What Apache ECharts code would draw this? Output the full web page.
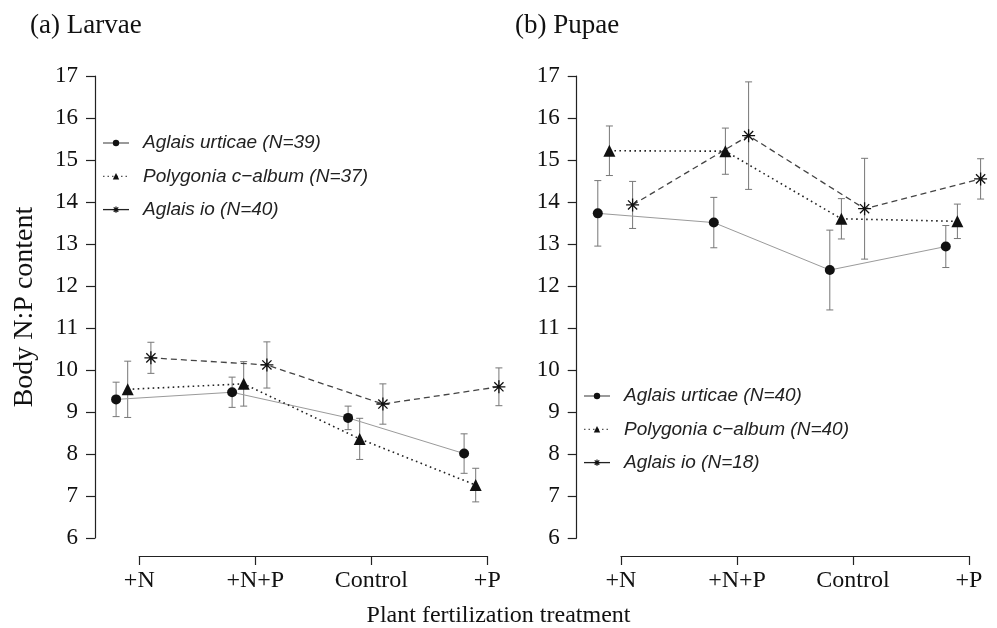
<!DOCTYPE html>
<html>
<head>
<meta charset="utf-8">
<script src="https://cdn.jsdelivr.net/npm/echarts@6/dist/echarts.min.js"></script>
<style>
  html, body { margin: 0; padding: 0; background: #fff; }
  #chart { width: 997px; height: 628px; }
</style>
</head>
<body>
<div id="chart"></div>
<script>
// categories on the x axis
const treatments = ['+N', '+N+P', 'Control', '+P'];
// horizontal dodge of each species inside a category
const speciesOffset = [-0.2, -0.1, 0.1];

// (a) larvae: means and standard errors
const larvaeNames = ['Aglais urticae (N=39)', 'Polygonia c\u2212album (N=37)', 'Aglais io (N=40)'];
const larvaeUrticae = [9.30, 9.47, 8.86, 8.01];
const larvaeUrticaeSE = [0.41, 0.36, 0.28, 0.47];
const larvaePolygonia = [9.54, 9.67, 8.36, 7.26];
const larvaePolygoniaSE = [0.67, 0.53, 0.49, 0.40];
const larvaeIo = [10.29, 10.12, 9.19, 9.60];
const larvaeIoSE = [0.37, 0.55, 0.48, 0.45];

// (b) pupae
const pupaeNames = ['Aglais urticae (N=40)', 'Polygonia c\u2212album (N=40)', 'Aglais io (N=18)'];
const pupaeUrticae = [13.73, 13.51, 12.38, 12.94];
const pupaeUrticaeSE = [0.78, 0.60, 0.95, 0.50];
const pupaePolygonia = [15.22, 15.21, 13.60, 13.54];
const pupaePolygoniaSE = [0.59, 0.55, 0.48, 0.41];
const pupaeIo = [13.93, 15.58, 13.84, 14.55];
const pupaeIoSE = [0.56, 1.28, 1.20, 0.48];

const serif = "'Liberation Serif', 'Times New Roman', serif";
const sans = "'Liberation Sans', Arial, sans-serif";
const axisColor = '#222';

// asterisk like R pch 8
const asterisk = 'path://M0,5L10,5M5,0L5,10M1.46,1.46L8.54,8.54M8.54,1.46L1.46,8.54';

const speciesStyle = [
  { symbol: 'circle', symbolSize: 10, lineStyle: { color: '#9a9a9a', width: 1, type: 'solid' },
    itemStyle: { color: '#111' } },
  { symbol: 'triangle', symbolSize: 12, lineStyle: { color: '#222', width: 1.6, type: [1.6, 3.4] },
    itemStyle: { color: '#111' } },
  { symbol: asterisk, symbolSize: 13, lineStyle: { color: '#444', width: 1.3, type: [6, 4] },
    itemStyle: { color: '#111', borderColor: '#111', borderWidth: 1.3 } }
];

// panel geometry (y axis position and first category tick)
const unit = 116;
const dataWidth = 415;
const panels = [
  { axisX: 95, firstTick: 139.3 },
  { axisX: 576.7, firstTick: 621 }
];

function renderErrorBar(params, api) {
  const x = api.value(0);
  const lo = api.coord([x, api.value(1)]);
  const hi = api.coord([x, api.value(2)]);
  const w = 3.5;
  const style = { stroke: '#777', lineWidth: 1 };
  return {
    type: 'group',
    children: [
      { type: 'line', shape: { x1: lo[0], y1: lo[1], x2: hi[0], y2: hi[1] }, style: style },
      { type: 'line', shape: { x1: lo[0] - w, y1: lo[1], x2: lo[0] + w, y2: lo[1] }, style: style },
      { type: 'line', shape: { x1: hi[0] - w, y1: hi[1], x2: hi[0] + w, y2: hi[1] }, style: style }
    ]
  };
}

let grid = [];
let xAxis = [];
let yAxis = [];
let series = [];

function addPanel(p, names, means, ses, showName) {
  const panel = panels[p];
  const xMin = 1 - (panel.firstTick - panel.axisX) / unit;
  // data grid
  grid.push({ left: panel.axisX, top: 76, width: dataWidth, height: 462 });
  // grid that only carries the category axis (spans first to last tick)
  grid.push({ left: panel.firstTick, top: 500, width: unit * 3, height: 56 });
  const g = p * 2;
  xAxis.push({ gridIndex: g, type: 'value', min: xMin, max: xMin + dataWidth / unit, show: false });
  xAxis.push({
    gridIndex: g + 1, type: 'value', min: 1, max: 4, interval: 1,
    axisLine: { show: true, lineStyle: { color: axisColor, width: 1.2 } },
    axisTick: { show: true, length: 9, lineStyle: { color: axisColor, width: 1.2 } },
    splitLine: { show: false },
    axisLabel: {
      margin: 13, color: '#111', fontFamily: serif, fontSize: 24,
      formatter: v => treatments[v - 1]
    }
  });
  yAxis.push({
    gridIndex: g, type: 'value', min: 6, max: 17, interval: 1,
    name: showName ? 'Body N:P content' : '', nameLocation: 'middle', nameGap: 56,
    nameTextStyle: { fontFamily: serif, fontSize: 28, color: '#111' },
    axisLine: { show: true, lineStyle: { color: axisColor, width: 1.2 } },
    axisTick: { show: true, length: 9, lineStyle: { color: axisColor, width: 1.2 } },
    splitLine: { show: false },
    axisLabel: { margin: 17, color: '#111', fontFamily: serif, fontSize: 23 }
  });
  yAxis.push({ gridIndex: g + 1, type: 'value', show: false });

  for (let s = 0; s < 3; s++) {
    const pts = means[s].map((m, i) => [i + 1 + speciesOffset[s], m]);
    const bars = means[s].map((m, i) => [i + 1 + speciesOffset[s], m - ses[s][i], m + ses[s][i]]);
    series.push({
      type: 'custom', xAxisIndex: g, yAxisIndex: g, z: 1,
      renderItem: renderErrorBar, data: bars, encode: { x: 0, y: [1, 2] }, silent: true
    });
    series.push(Object.assign({
      name: names[s], type: 'line', xAxisIndex: g, yAxisIndex: g, z: 3,
      data: pts, showSymbol: true, animation: false
    }, speciesStyle[s]));
  }
}

addPanel(0, larvaeNames, [larvaeUrticae, larvaePolygonia, larvaeIo], [larvaeUrticaeSE, larvaePolygoniaSE, larvaeIoSE], true);
addPanel(1, pupaeNames, [pupaeUrticae, pupaePolygonia, pupaeIo], [pupaeUrticaeSE, pupaePolygoniaSE, pupaeIoSE], false);

const legendText = { fontFamily: sans, fontStyle: 'italic', fontSize: 19, color: '#222', lineHeight: 20, padding: [0, 0, 0, 9] };

// legend entries: the io key is drawn as a solid line in the original
function legendData(names) {
  return [
    { name: names[0] },
    { name: names[1], lineStyle: { color: '#555', width: 1.3, type: [1.5, 3] } },
    { name: names[2], lineStyle: { color: '#222', width: 1.3, type: 'solid' },
      itemStyle: { color: '#111', borderColor: '#111', borderWidth: 1.2 } }
  ];
}

const option = {
  animation: false,
  backgroundColor: '#fff',
  title: [
    { text: '(a) Larvae', left: 30, top: 12, padding: 0,
      textStyle: { fontFamily: serif, fontSize: 27, fontWeight: 'normal', color: '#111' } },
    { text: '(b) Pupae', left: 515, top: 12, padding: 0,
      textStyle: { fontFamily: serif, fontSize: 27, fontWeight: 'normal', color: '#111' } },
    { text: 'Plant fertilization treatment', left: 'center', top: 604, padding: 0,
      textStyle: { fontFamily: serif, fontSize: 24, fontWeight: 'normal', color: '#111' } }
  ],
  legend: [
    { data: legendData(larvaeNames), orient: 'vertical', left: 102, top: 133, padding: 0,
      itemWidth: 26, itemHeight: 8, itemGap: 13.3, textStyle: legendText, selectedMode: false },
    { data: legendData(pupaeNames), orient: 'vertical', left: 583, top: 386, padding: 0,
      itemWidth: 26, itemHeight: 8, itemGap: 13.3, textStyle: legendText, selectedMode: false }
  ],
  grid: grid,
  xAxis: xAxis,
  yAxis: yAxis,
  series: series
};

const chart = echarts.init(document.getElementById('chart'));
chart.setOption(option);
</script>
</body>
</html>
